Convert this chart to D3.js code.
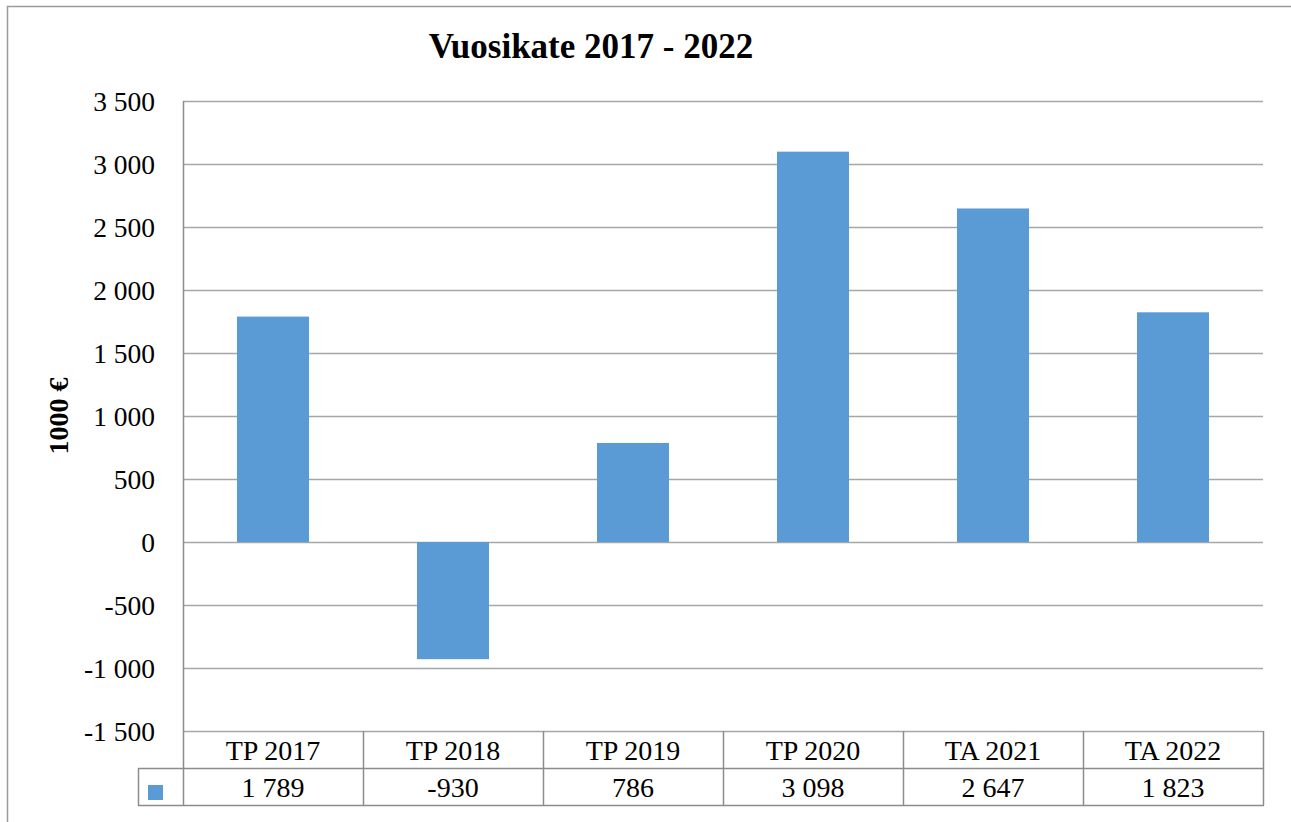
<!DOCTYPE html>
<html>
<head>
<meta charset="utf-8">
<script src="https://cdn.jsdelivr.net/npm/d3@7"></script>
<style>
  body { margin: 0; background: #fff; }
</style>
</head>
<body>
<div id="chart"></div>
<script>
const categories = ["TP 2017", "TP 2018", "TP 2019", "TP 2020", "TA 2021", "TA 2022"];
const values = [1789, -930, 786, 3098, 2647, 1823];
const valueLabels = ["1 789", "-930", "786", "3 098", "2 647", "1 823"];
const yTicks = [-1500, -1000, -500, 0, 500, 1000, 1500, 2000, 2500, 3000, 3500];

const W = 1291, H = 822;
const margin = { top: 101, right: 28, bottom: 91, left: 183 };
const width = W - margin.left - margin.right,
      height = H - margin.top - margin.bottom;
const rowH = 37;
const FONT = "'Liberation Serif', 'Times New Roman', Tinos, 'DejaVu Serif', serif";

const fmt = v => {
  const s = Math.abs(v).toString().replace(/\B(?=(\d{3})+(?!\d))/g, " ");
  return (v < 0 ? "-" : "") + s;
};

const svg = d3.select("#chart").append("svg")
  .attr("width", W).attr("height", H)
  .attr("font-family", FONT)
  .style("font-family", FONT);

// outer chart border
svg.append("path")
  .attr("d", `M7.5,${H} V6.5 H${W}`)
  .attr("fill", "none").attr("stroke", "#9a9a9a").attr("stroke-width", 1.5);

// title
svg.append("text")
  .attr("x", 591).attr("y", 58)
  .attr("text-anchor", "middle")
  .style("font-size", "35px").style("font-weight", "bold")
  .text("Vuosikate 2017 - 2022");

const g = svg.append("g").attr("transform", `translate(${margin.left},${margin.top})`);

const x = d3.scaleBand().domain(categories).range([0, width])
  .paddingInner(0.6).paddingOuter(0.3);
const xCell = d3.scaleBand().domain(categories).range([0, width]).padding(0);
const y = d3.scaleLinear().domain([-1500, 3500]).range([height, 0]);

// gridlines
g.append("g").selectAll("line").data(yTicks).join("line")
  .attr("x1", 0).attr("x2", width)
  .attr("y1", d => Math.round(y(d)) + 0.5).attr("y2", d => Math.round(y(d)) + 0.5)
  .attr("stroke", "#a6a6a6").attr("stroke-width", 1.3);

// y tick labels
g.append("g").selectAll("text").data(yTicks).join("text")
  .attr("x", -28).attr("y", d => y(d))
  .attr("dy", "0.35em").attr("text-anchor", "end")
  .style("font-size", "27.5px")
  .text(fmt);

// y axis title
g.append("text")
  .attr("transform", `translate(${-115},${height / 2}) rotate(-90)`)
  .attr("text-anchor", "middle")
  .style("font-size", "28px").style("font-weight", "bold")
  .text("1000 €");

// bars
g.append("g").selectAll("rect").data(values).join("rect")
  .attr("x", (d, i) => x(categories[i]))
  .attr("width", x.bandwidth())
  .attr("y", d => y(Math.max(0, d)))
  .attr("height", d => Math.abs(y(d) - y(0)))
  .attr("fill", "#5b9bd5");

// data table
const tbl = g.append("g").attr("transform", `translate(0,${height})`);
const lineColor = "#8c8c8c";

// vertical line on the left of the plot, through table
g.append("line")
  .attr("x1", 0.5).attr("x2", 0.5).attr("y1", 0).attr("y2", height + 2 * rowH)
  .attr("stroke", lineColor).attr("stroke-width", 1.5);

// column separators
tbl.selectAll("line.col").data(categories).join("line")
  .attr("class", "col")
  .attr("x1", d => xCell(d) + xCell.bandwidth() + 0.5)
  .attr("x2", d => xCell(d) + xCell.bandwidth() + 0.5)
  .attr("y1", 0).attr("y2", 2 * rowH)
  .attr("stroke", lineColor).attr("stroke-width", 1.5);

// horizontal table lines
tbl.append("line").attr("x1", -45).attr("x2", width + 1)
  .attr("y1", rowH + 0.5).attr("y2", rowH + 0.5)
  .attr("stroke", lineColor).attr("stroke-width", 1.5);
tbl.append("line").attr("x1", -45).attr("x2", width + 1)
  .attr("y1", 2 * rowH + 0.5).attr("y2", 2 * rowH + 0.5)
  .attr("stroke", lineColor).attr("stroke-width", 1.5);
tbl.append("line").attr("x1", -44.5).attr("x2", -44.5)
  .attr("y1", rowH).attr("y2", 2 * rowH + 1)
  .attr("stroke", lineColor).attr("stroke-width", 1.5);

// legend key
tbl.append("rect")
  .attr("x", -35).attr("y", rowH + 17)
  .attr("width", 15).attr("height", 15)
  .attr("fill", "#5b9bd5");

// category labels
tbl.selectAll("text.cat").data(categories).join("text")
  .attr("class", "cat")
  .attr("x", d => xCell(d) + xCell.bandwidth() / 2)
  .attr("y", rowH / 2 + 1).attr("dy", "0.35em")
  .attr("text-anchor", "middle")
  .style("font-size", "28px")
  .text(d => d);

// value labels
tbl.selectAll("text.val").data(valueLabels).join("text")
  .attr("class", "val")
  .attr("x", (d, i) => xCell(categories[i]) + xCell.bandwidth() / 2)
  .attr("y", rowH * 1.5 + 1).attr("dy", "0.35em")
  .attr("text-anchor", "middle")
  .style("font-size", "28px")
  .text(d => d);
</script>
</body>
</html>
